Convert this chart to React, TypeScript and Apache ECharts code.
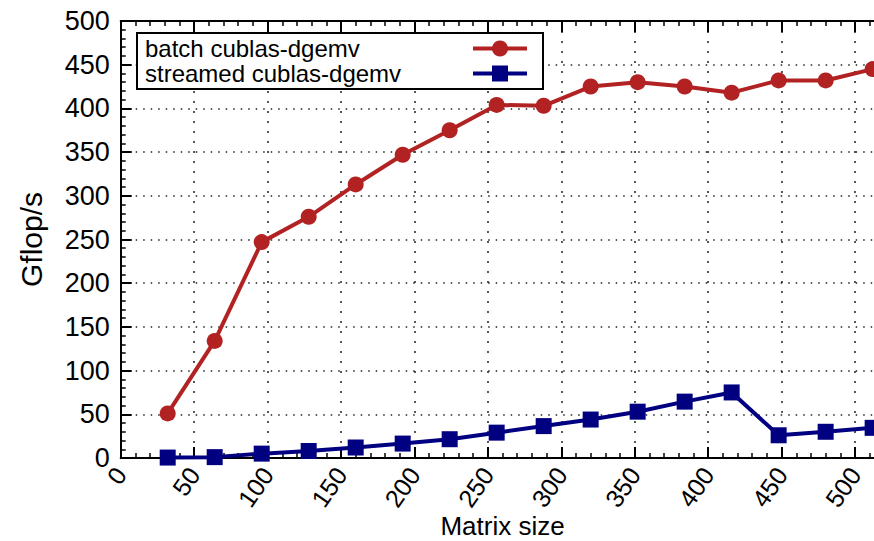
import React, { useEffect, useRef } from "react";
import * as echarts from "echarts";

// Matrix sizes and measured throughput (Gflop/s)
const matrixSizes = [32, 64, 96, 128, 160, 192, 224, 256, 288, 320, 352, 384, 416, 448, 480, 512];
const batchGflops = [51, 134, 247, 276, 313, 347, 375, 404, 403, 425, 430, 425, 418, 432, 432, 445];
const streamedGflops = [0.5, 1, 5, 8, 12, 16.5, 21.5, 29, 36.5, 44, 53, 64.5, 75, 26, 30, 34.5];
const seriesNames = ["batch cublas-dgemv", "streamed cublas-dgemv"];

const FONT = "'Liberation Sans', Arial, Helvetica, sans-serif";

export default function App() {
  const ref = useRef<HTMLDivElement>(null);

  useEffect(() => {
    document.body.style.margin = "0";
    if (!ref.current) return;
    const chart = echarts.init(ref.current, undefined, { renderer: "svg" });

    const tickStyle = { color: "#000", width: 2 };
    const minorStyle = { color: "#000", width: 1.5 };

    chart.setOption({
      animation: false,
      backgroundColor: "#fff",
      textStyle: { fontFamily: FONT },
      grid: {
        left: 120.7,
        top: 21,
        right: -10.4,
        bottom: 83,
        containLabel: false,
        outerBoundsMode: "none",
      },
      legend: {
        left: 137,
        top: 33,
        orient: "vertical",
        align: "right",
        itemGap: 0,
        itemWidth: 54,
        itemHeight: 20,
        padding: [3, 14, 3, 8],
        borderColor: "#000",
        borderWidth: 2,
        backgroundColor: "#fff",
        lineStyle: { width: 4 },
        formatter: (name: string) => `{t|${name}}`,
        textStyle: {
          fontSize: 24,
          color: "#000",
          lineHeight: 25,
          fontFamily: FONT,
          rich: {
            t: { fontSize: 24, width: 323, align: "left", lineHeight: 25, fontFamily: FONT, color: "#000" },
          },
        },
        data: seriesNames,
      },
      xAxis: [
        {
          type: "value",
          min: 0,
          max: 520,
          interval: 50,
          name: "Matrix size",
          nameLocation: "middle",
          nameGap: 55,
          nameMoveOverlap: false,
          nameTextStyle: { fontSize: 26, color: "#000", fontFamily: FONT },
          axisLine: { show: true, onZero: false, lineStyle: { color: "#000", width: 2 } },
          axisTick: { show: true, inside: true, length: 11, lineStyle: tickStyle },
          minorTick: { show: true, splitNumber: 5, length: 5, lineStyle: minorStyle },
          axisLabel: {
            rotate: 55,
            fontSize: 25,
            color: "#000",
            margin: 12,
            showMaxLabel: false,
            fontFamily: FONT,
          },
          splitLine: { show: true, lineStyle: { color: "#222", width: 1.5, type: [2, 8] } },
        },
        {
          type: "value",
          position: "top",
          min: 0,
          max: 520,
          interval: 50,
          axisLine: { show: true, onZero: false, lineStyle: { color: "#000", width: 2 } },
          axisTick: { show: true, inside: true, length: 11, lineStyle: tickStyle },
          minorTick: { show: true, splitNumber: 5, length: 5, lineStyle: minorStyle },
          axisLabel: { show: false },
          splitLine: { show: false },
        },
      ],
      yAxis: [
        {
          type: "value",
          min: 0,
          max: 500,
          interval: 50,
          name: "Gflop/s",
          nameLocation: "middle",
          nameGap: 74,
          nameTextStyle: { fontSize: 30, color: "#000", fontFamily: FONT },
          axisLine: { show: true, onZero: false, lineStyle: { color: "#000", width: 2 } },
          axisTick: { show: true, inside: true, length: 11, lineStyle: tickStyle },
          minorTick: { show: true, splitNumber: 5, length: 5, lineStyle: minorStyle },
          axisLabel: { fontSize: 27, color: "#000", margin: 11, fontFamily: FONT },
          splitLine: { show: true, lineStyle: { color: "#222", width: 1.5, type: [1.5, 6] } },
        },
      ],
      series: [
        {
          name: seriesNames[0],
          type: "line",
          data: matrixSizes.map((x, i) => [x, batchGflops[i]]),
          symbol: "circle",
          symbolSize: 16,
          clip: false,
          lineStyle: { color: "#b22222", width: 4 },
          itemStyle: { color: "#b22222" },
          z: 3,
        },
        {
          name: seriesNames[1],
          type: "line",
          data: matrixSizes.map((x, i) => [x, streamedGflops[i]]),
          symbol: "rect",
          symbolSize: 16,
          clip: false,
          lineStyle: { color: "#000080", width: 4 },
          itemStyle: { color: "#000080" },
          z: 3,
        },
      ],
    });

    return () => chart.dispose();
  }, []);

  return <div ref={ref} style={{ width: 874, height: 541, overflow: "hidden" }} />;
}
